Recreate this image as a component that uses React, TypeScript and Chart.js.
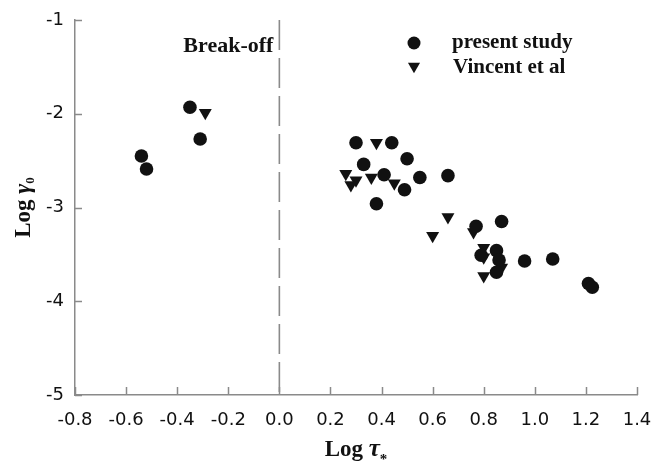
import React, { useEffect, useRef } from "react";
import { Chart, registerables } from "chart.js";

Chart.register(...registerables);

// ---- data ----
const presentX = [-0.35, -0.31, -0.54, -0.52, 0.30, 0.44, 0.50, 0.33, 0.41, 0.55, 0.66, 0.49, 0.38, 0.77, 0.87, 0.79, 0.85, 0.86, 0.96, 1.07, 0.85, 1.21, 1.225];
const presentY = [-1.93, -2.27, -2.45, -2.59, -2.31, -2.31, -2.48, -2.54, -2.65, -2.68, -2.66, -2.81, -2.96, -3.20, -3.15, -3.51, -3.46, -3.56, -3.57, -3.55, -3.69, -3.81, -3.85];
const vincentX = [-0.29, 0.38, 0.26, 0.30, 0.28, 0.36, 0.45, 0.66, 0.60, 0.76, 0.80, 0.80, 0.87, 0.80];
const vincentY = [-1.99, -2.31, -2.64, -2.71, -2.76, -2.68, -2.74, -3.10, -3.30, -3.26, -3.43, -3.53, -3.64, -3.73];
const xTicks = [-0.8, -0.6, -0.4, -0.2, 0.0, 0.2, 0.4, 0.6, 0.8, 1.0, 1.2, 1.4];
const yTicks = [-5, -4, -3, -2, -1];
const seriesLabels = ["present study", "Vincent et al"];
const breakOffLabel = "Break-off";
const breakOffX = 0.0;

const AXIS = "#8a8a8a";
const SERIF = "'Liberation Serif', 'DejaVu Serif', serif";
const SANS = "'DejaVu Sans', sans-serif";

type Run = { text: string; font: string; dy?: number };

function drawRuns(ctx: CanvasRenderingContext2D, runs: Run[], cx: number, baseline: number) {
  let total = 0;
  const widths = runs.map((r) => {
    ctx.font = r.font;
    const w = ctx.measureText(r.text).width;
    total += w;
    return w;
  });
  let x = cx - total / 2;
  ctx.textAlign = "left";
  ctx.textBaseline = "alphabetic";
  runs.forEach((r, i) => {
    ctx.font = r.font;
    ctx.fillText(r.text, x, baseline + (r.dy || 0));
    x += widths[i];
  });
}

const overlayPlugin = {
  id: "overlay",
  beforeDatasetsDraw(chart: any) {
    const { ctx, chartArea, scales } = chart;
    const px = scales.x.getPixelForValue(breakOffX);
    ctx.save();
    ctx.strokeStyle = AXIS;
    ctx.lineWidth = 1.6;
    ctx.setLineDash([30, 8]);
    ctx.beginPath();
    ctx.moveTo(px, chartArea.top);
    ctx.lineTo(px, chartArea.bottom);
    ctx.stroke();
    ctx.restore();
  },
  afterDraw(chart: any) {
    const { ctx, chartArea, scales } = chart;
    const xs = scales.x;
    const ys = scales.y;
    ctx.save();
    // inward tick marks
    ctx.strokeStyle = AXIS;
    ctx.lineWidth = 1.5;
    ctx.beginPath();
    xTicks.forEach((v) => {
      const p = Math.round(xs.getPixelForValue(v)) + 0.5;
      ctx.moveTo(p, chartArea.bottom);
      ctx.lineTo(p, chartArea.bottom - 8);
    });
    yTicks.forEach((v) => {
      const p = Math.round(ys.getPixelForValue(v)) + 0.5;
      ctx.moveTo(chartArea.left, p);
      ctx.lineTo(chartArea.left + 7, p);
    });
    ctx.stroke();

    ctx.fillStyle = "#111";
    // Break-off label
    const bx = xs.getPixelForValue(breakOffX);
    ctx.font = `bold 22px ${SERIF}`;
    ctx.textAlign = "right";
    ctx.textBaseline = "alphabetic";
    ctx.fillText(breakOffLabel, bx - 6, 52);

    // legend
    const lx = 414;
    const ly = [43, 68];
    ctx.beginPath();
    ctx.arc(lx, ly[0], 6.5, 0, Math.PI * 2);
    ctx.fill();
    const r = 7;
    ctx.beginPath();
    ctx.moveTo(lx, ly[1] + r * 0.75);
    ctx.lineTo(lx - r * 0.866, ly[1] - r * 0.75);
    ctx.lineTo(lx + r * 0.866, ly[1] - r * 0.75);
    ctx.closePath();
    ctx.fill();
    ctx.font = `bold 21px ${SERIF}`;
    ctx.textAlign = "left";
    ctx.textBaseline = "middle";
    ctx.fillText(seriesLabels[0], 452, ly[0]);
    ctx.fillText(seriesLabels[1], 453, ly[1]);

    // x title
    const xc = (chartArea.left + chartArea.right) / 2;
    drawRuns(
      ctx,
      [
        { text: "Log ", font: `bold 23px ${SERIF}` },
        { text: "τ", font: `italic bold 25px ${SERIF}` },
        { text: "*", font: `bold 15px ${SERIF}`, dy: 8 },
      ],
      xc,
      456
    );

    // y title
    const yc = (chartArea.top + chartArea.bottom) / 2;
    ctx.translate(30, yc);
    ctx.rotate(-Math.PI / 2);
    drawRuns(
      ctx,
      [
        { text: "Log ", font: `bold 23px ${SERIF}` },
        { text: "γ", font: `italic bold 24px ${SERIF}` },
        { text: "0", font: `bold 13px ${SERIF}`, dy: 4 },
      ],
      0,
      0
    );
    ctx.restore();
  },
};

export default function App() {
  const canvasRef = useRef<HTMLCanvasElement | null>(null);

  useEffect(() => {
    const canvas = canvasRef.current;
    if (!canvas) return;
    const chart = new Chart(canvas, {
      type: "scatter",
      data: {
        datasets: [
          {
            label: seriesLabels[0],
            data: presentX.map((x, i) => ({ x, y: presentY[i] })),
            pointStyle: "circle",
            pointRadius: 6.8,
            pointBackgroundColor: "#111",
            pointBorderColor: "#111",
            pointBorderWidth: 0,
          },
          {
            label: seriesLabels[1],
            data: vincentX.map((x, i) => ({ x, y: vincentY[i] })),
            pointStyle: "triangle",
            pointRotation: 180,
            pointRadius: 7.5,
            pointBackgroundColor: "#111",
            pointBorderColor: "#111",
            pointBorderWidth: 0,
          },
        ],
      },
      options: {
        animation: false,
        responsive: false,
        maintainAspectRatio: false,
        layout: { padding: { top: 20, right: 15, left: 0, bottom: 0 } },
        plugins: {
          legend: { display: false },
          tooltip: { enabled: false },
          title: { display: false },
        },
        scales: {
          x: {
            type: "linear",
            min: -0.8,
            max: 1.4,
            afterBuildTicks: (s: any) => {
              s.ticks = xTicks.map((v) => ({ value: v }));
            },
            afterFit: (s: any) => {
              s.height = 73;
              s.paddingLeft = 0;
              s.paddingRight = 0;
            },
            ticks: {
              padding: 15,
              color: "#111",
              font: { family: SANS, size: 18 },
              callback: (v: any) => Number(v).toFixed(1),
              maxRotation: 0,
              autoSkip: false,
            },
            grid: { display: false, drawTicks: false },
            border: { display: true, color: AXIS, width: 1.5 },
          },
          y: {
            type: "linear",
            min: -5,
            max: -1,
            afterBuildTicks: (s: any) => {
              s.ticks = yTicks.map((v) => ({ value: v }));
            },
            afterFit: (s: any) => {
              s.width = 75;
              s.paddingTop = 0;
              s.paddingBottom = 0;
            },
            ticks: {
              padding: 11,
              color: "#111",
              font: { family: SANS, size: 18 },
              callback: (v: any) => String(v),
            },
            grid: { display: false, drawTicks: false },
            border: { display: true, color: AXIS, width: 1.5 },
          },
        },
      },
      plugins: [overlayPlugin],
    });
    return () => chart.destroy();
  }, []);

  return (
    <div style={{ position: "absolute", left: 0, top: 0, width: 652, height: 468, background: "#fff" }}>
      <canvas ref={canvasRef} width={652} height={468} style={{ display: "block", width: 652, height: 468 }} />
    </div>
  );
}
